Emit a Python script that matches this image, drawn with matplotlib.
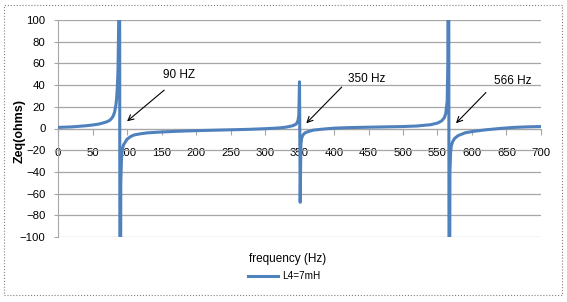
import matplotlib
matplotlib.use("Agg")
import matplotlib.pyplot as plt
import matplotlib.patches as patches

plt.rcParams['font.family'] = ['Liberation Sans', 'DejaVu Sans']

# frequency (Hz) and equivalent impedance (ohms)
freq = [0, 20, 40, 50, 60, 70, 75, 78, 80, 82, 84, 85, 86, 87, 88, 89,
        90, 91, 92, 93, 95, 100, 105, 110, 120, 130, 150, 175, 200, 225, 250,
        275, 300, 320, 330, 340, 345, 347, 348, 349, 350,
        351, 352, 353, 355, 358, 362, 370, 385, 400, 420, 450, 500, 520,
        540, 550, 556, 560, 562, 564, 565, 566,
        567, 568, 569, 570, 572, 575, 580, 590, 600, 620, 640, 660, 680, 700]
zeq = [1.0, 1.5, 2.5, 3.2, 4.2, 6.0, 7.5, 9.5, 11.5, 15, 22, 28, 38, 55, 100, 400,
       -400, -50, -28, -20, -15, -10, -7.5, -6, -4.8, -4, -3.2, -2.5, -2, -1.6, -1.2,
       -0.8, -0.2, 0.5, 1.2, 2.5, 4, 6, 8, 12, 43,
       -68, -15, -9, -6, -4, -3, -1.5, -0.5, 0.3, 0.8, 1.2, 1.8, 2.3,
       3.5, 5, 7, 10, 14, 25, 60, 400,
       -400, -40, -22, -16, -12, -9, -6.5, -4, -2.8, -1.2, 0, 1, 1.5, 1.8]

series_label = "L4=7mH"
peak_labels = ["90 HZ", "350 Hz", "566 Hz"]
label_xy = [(152, 49), (421, 46), (632, 44)]
tail_xy = [(157, 37), (414, 40), (623, 35)]
tip_xy = [(97, 5), (357, 3), (574, 3)]

fig = plt.figure(figsize=(5.67, 3.02), dpi=100)
ax = fig.add_axes([58 / 567, 1 - 237 / 302, 483 / 567, 217 / 302])

line, = ax.plot(freq, zeq, color='#4F81BD', lw=2.2, label=series_label, zorder=3)

ax.set_xlim(0, 700)
ax.set_ylim(-100, 100)
ax.set_xticks(range(0, 701, 50))
ax.set_yticks(range(-100, 101, 20))
ax.grid(axis='y', color='#A6A6A6', lw=0.9)
ax.set_axisbelow(True)

for s in ['top', 'right']:
    ax.spines[s].set_visible(False)
ax.spines['bottom'].set_position(('data', 0))
ax.spines['bottom'].set_color('#A6A6A6')
ax.spines['left'].set_color('#A6A6A6')
ax.tick_params(axis='x', direction='out', length=4, color='#A6A6A6', pad=10, labelsize=8.2)
ax.tick_params(axis='y', direction='out', length=3, color='#A6A6A6', pad=6, labelsize=8.2)

for txt, lxy, txy, pxy in zip(peak_labels, label_xy, tail_xy, tip_xy):
    ax.text(lxy[0], lxy[1], txt, fontsize=8.5, va='center', ha='left')
    ax.annotate('', xy=pxy, xytext=txy,
                arrowprops=dict(arrowstyle='->', color='black', lw=0.8))

fig.text(20 / 567, 1 - 131 / 302, 'Zeq(ohms)', rotation=90, fontsize=9,
         fontweight='bold', ha='center', va='center')
fig.text(288 / 567, 1 - 259 / 302, 'frequency (Hz)', fontsize=8.5,
         ha='center', va='center')
fig.legend(handles=[line], loc='center', bbox_to_anchor=(284 / 567, 1 - 276 / 302),
           frameon=False, fontsize=7.2, handlelength=3, handletextpad=0.4)

fig.patches.append(patches.Rectangle((4 / 567, 7 / 302), 558 / 567, 290 / 302,
                                     transform=fig.transFigure, fill=False,
                                     edgecolor='#808080', lw=0.8, ls=':'))

plt.savefig('out.png', dpi=100)
